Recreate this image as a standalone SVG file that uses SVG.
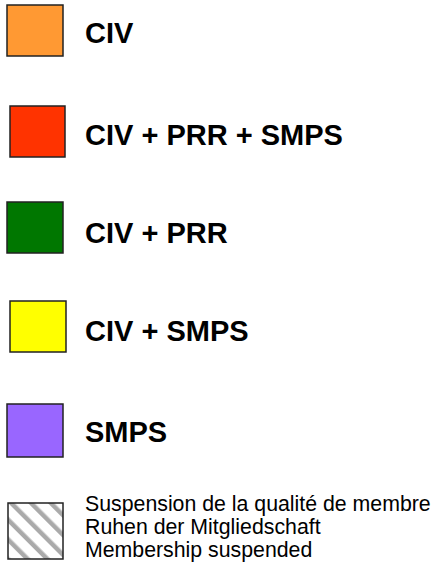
<svg xmlns="http://www.w3.org/2000/svg" width="437" height="571" viewBox="0 0 437 571">
<style>
.sw{stroke:#222;stroke-width:1.5}
.lb{font-family:"Liberation Sans",Arial,sans-serif;font-weight:bold;font-size:29px;fill:#000}
.sm{font-family:"Liberation Sans",Arial,sans-serif;font-size:21.3px;fill:#000}
</style>
<defs>
<pattern id="hatch" patternUnits="userSpaceOnUse" width="14" height="14" patternTransform="rotate(-45)">
<rect width="14" height="14" fill="#fff"/>
<rect x="0" y="0" width="4.5" height="14" fill="#aaa"/>
</pattern>
</defs>
<rect width="437" height="571" fill="#fff"/>
<g id="civ">
<rect class="sw" x="7" y="5" width="56" height="51" fill="#FF9933"/>
<text class="lb" x="85" y="43">CIV</text>
</g>
<g id="civ-prr-smps">
<rect class="sw" x="10" y="106" width="55" height="51" fill="#FF3300"/>
<text class="lb" x="85" y="145">CIV + PRR + SMPS</text>
</g>
<g id="civ-prr">
<rect class="sw" x="7" y="202" width="56" height="51" fill="#007700"/>
<text class="lb" x="85" y="243">CIV + PRR</text>
</g>
<g id="civ-smps">
<rect class="sw" x="10" y="301" width="56" height="51" fill="#FFFF00"/>
<text class="lb" x="85" y="341">CIV + SMPS</text>
</g>
<g id="smps">
<rect class="sw" x="7" y="404" width="56" height="53" fill="#9966FF"/>
<text class="lb" x="85" y="442">SMPS</text>
</g>
<g id="suspended">
<rect class="sw" x="8" y="503" width="55" height="56" fill="url(#hatch)"/>
<text class="sm" x="85" y="511">Suspension de la qualité de membre</text>
<text class="sm" x="85" y="534">Ruhen der Mitgliedschaft</text>
<text class="sm" x="85" y="557">Membership suspended</text>
</g>
<g id="connectors"/>
</svg>
